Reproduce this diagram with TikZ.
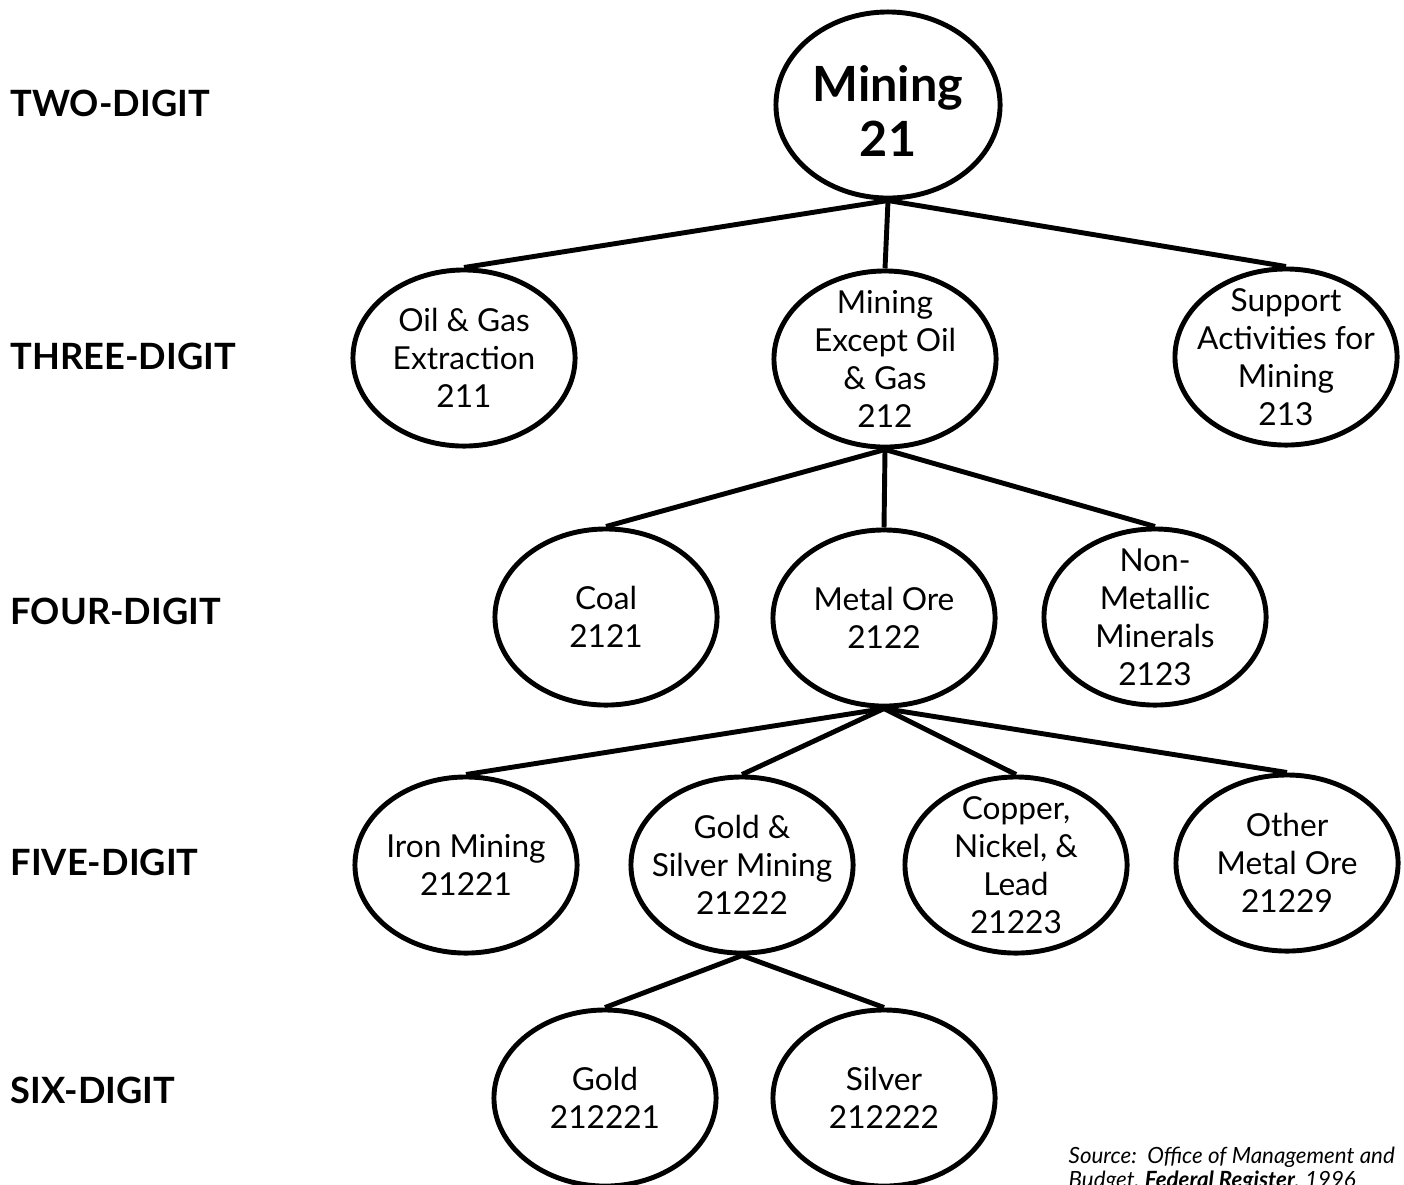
\documentclass[tikz,border=0pt]{standalone}
\usepackage{fontspec}
\setmainfont{Lato}
\usetikzlibrary{shapes.geometric}
\begin{document}
\begin{tikzpicture}[x=0.01cm,y=-0.01cm,
  ell/.style={ellipse, draw, line width=1.4pt, fill=white, inner sep=0pt,
              minimum width=2.22cm, minimum height=1.76cm},
  lbl/.style={align=center, font=\fontsize{9}{10.8}\selectfont, inner sep=0pt},
  toplbl/.style={align=center, font=\fontsize{13.8}{15.8}\selectfont\bfseries, inner sep=0pt},
  lvl/.style={anchor=west, font=\fontsize{10.3}{12}\selectfont\bfseries, inner sep=0pt},
  con/.style={line width=1.4pt}]
\useasboundingbox (0,0) rectangle (1404,1184);
\clip (0,0) rectangle (1404,1184);

% level labels
\node[lvl] (l2) at (10,103) {TWO-DIGIT};
\node[lvl] (l3) at (10,356) {THREE-DIGIT};
\node[lvl] (l4) at (10,611) {FOUR-DIGIT};
\node[lvl] (l5) at (10,862) {FIVE-DIGIT};
\node[lvl] (l6) at (10,1090) {SIX-DIGIT};

% nodes
\node[ell, minimum width=2.24cm, minimum height=1.86cm] (mining) at (888,105) {};
\node[toplbl] (miningtxt) at (888,111) {Mining\\21};
\node[ell, label={[lbl]center:Oil \& Gas\\Extraction\\211}] (oil) at (464,358) {};
\node[ell, label={[lbl]center:Mining\\Except Oil\\\& Gas\\212}] (m212) at (885,359) {};
\node[ell, label={[lbl]center:Support\\Activities for\\Mining\\213}] (sup) at (1286,357) {};

\node[ell, label={[lbl]center:Coal\\2121}] (coal) at (606,617) {};
\node[ell, label={[lbl]center:Metal Ore\\2122}] (metal) at (884,618) {};
\node[ell, label={[lbl]center:Non-\\Metallic\\Minerals\\2123}] (nonmet) at (1155,617) {};

\node[ell, label={[lbl]center:Iron Mining\\21221}] (iron) at (466,865) {};
\node[ell, label={[lbl]center:Gold \&\\Silver Mining\\21222}] (gs) at (742,865) {};
\node[ell, label={[lbl]center:Copper,\\Nickel, \&\\Lead\\21223}] (cop) at (1016,865) {};
\node[ell, label={[lbl]center:Other\\Metal Ore\\21229}] (other) at (1287,863) {};

\node[ell, label={[lbl]center:Gold\\212221}] (gold) at (605,1098) {};
\node[ell, label={[lbl]center:Silver\\212222}] (silver) at (884,1098) {};

% connectors
\draw[con] (mining.south) -- (oil.north);
\draw[con] (mining.south) -- (m212.north);
\draw[con] (mining.south) -- (sup.north);

\draw[con] (m212.south) -- (coal.north);
\draw[con] (m212.south) -- (metal.north);
\draw[con] (m212.south) -- (nonmet.north);

\draw[con] (metal.south) -- (iron.north);
\draw[con] (metal.south) -- (gs.north);
\draw[con] (metal.south) -- (cop.north);
\draw[con] (metal.south) -- (other.north);

\draw[con] (gs.south) -- (gold.north);
\draw[con] (gs.south) -- (silver.north);

% source
\node[anchor=north west, align=left, inner sep=0pt,
      font=\fontsize{6.35}{7}\selectfont\itshape] (src) at (1068,1146)
  {Source:\ \ Office of Management and\\Budget, \textbf{Federal Register}, 1996};
\end{tikzpicture}
\end{document}
